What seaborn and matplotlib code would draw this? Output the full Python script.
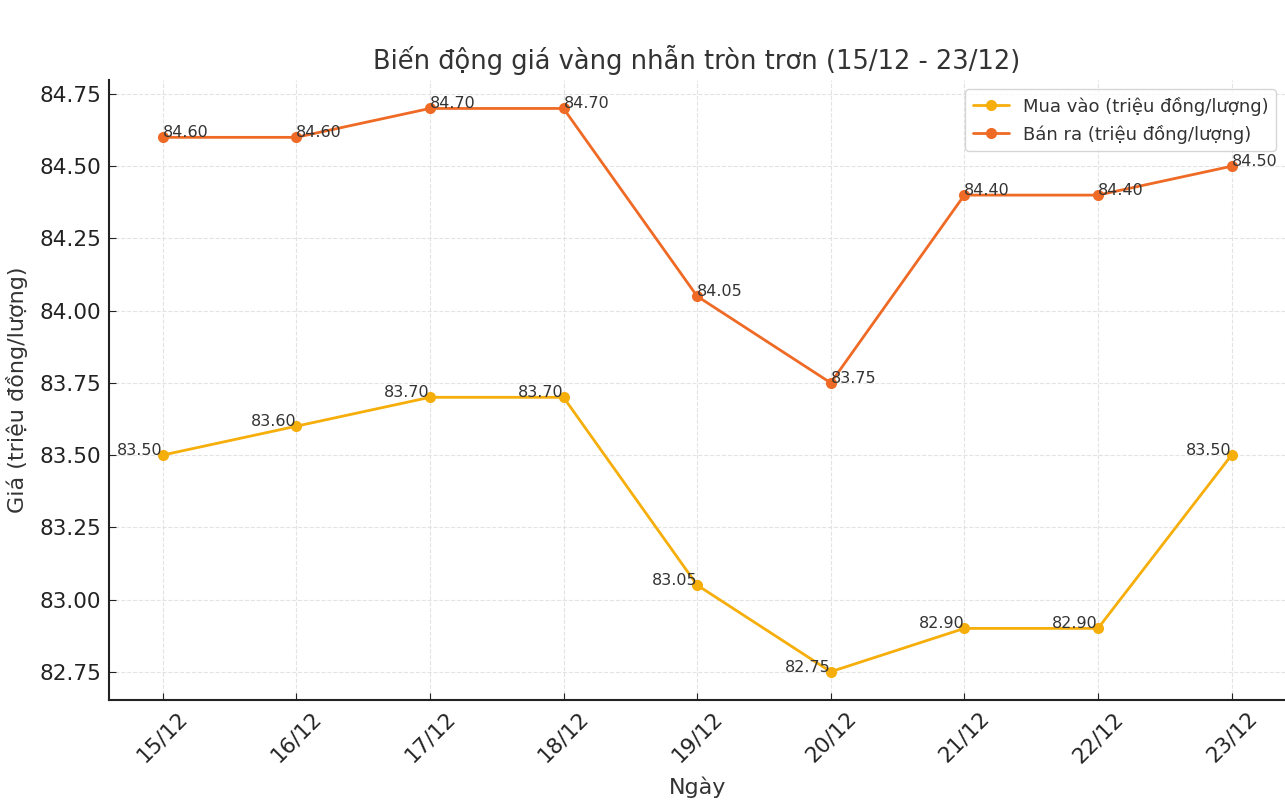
import matplotlib
matplotlib.use("Agg")
import matplotlib.pyplot as plt
import seaborn as sns
import pandas as pd

days = ["15/12", "16/12", "17/12", "18/12", "19/12", "20/12", "21/12", "22/12", "23/12"]
buy = [83.50, 83.60, 83.70, 83.70, 83.05, 82.75, 82.90, 82.90, 83.50]
sell = [84.60, 84.60, 84.70, 84.70, 84.05, 83.75, 84.40, 84.40, 84.50]
buy_label = "Mua vào (triệu đồng/lượng)"
sell_label = "Bán ra (triệu đồng/lượng)"

sns.set_style("ticks")
plt.rcParams['font.family'] = ['DejaVu Sans']

df = pd.DataFrame({
    "day": days * 2,
    "x": list(range(len(days))) * 2,
    "price": buy + sell,
    "series": [buy_label] * len(days) + [sell_label] * len(days),
})

fig, ax = plt.subplots(figsize=(12.85, 8.11), dpi=100)
fig.subplots_adjust(left=0.085, right=1.0, top=0.901, bottom=0.137)

palette = {buy_label: "#F6AE0B", sell_label: "#EE6A25"}
sns.lineplot(data=df, x="x", y="price", hue="series", palette=palette,
             marker="o", markersize=8, markeredgewidth=0, linewidth=2, ax=ax)

text_color = "#333333"
for i, v in enumerate(buy):
    ax.text(i, v, f"{v:.2f}", ha="right", va="baseline", fontsize=11.5, color=text_color)
for i, v in enumerate(sell):
    ax.text(i, v, f"{v:.2f}", ha="left", va="baseline", fontsize=11.5, color=text_color)

ax.set_xticks(range(len(days)))
ax.set_xticklabels(days, rotation=45)
ax.tick_params(axis="both", direction="in", labelsize=15.5, colors="#222222", length=5, pad=6)
ax.yaxis.set_major_formatter(matplotlib.ticker.FormatStrFormatter("%.2f"))
ax.grid(True, linestyle="--", color="#dddddd", linewidth=0.8, alpha=0.8)
ax.set_title("Biến động giá vàng nhẫn tròn trơn (15/12 - 23/12)", fontsize=18.5, color=text_color, pad=8)
ax.set_xlabel("Ngày", fontsize=16, color=text_color, labelpad=7)
ax.set_ylabel("Giá (triệu đồng/lượng)", fontsize=16, color=text_color, labelpad=8)
for s in ["top", "right"]:
    ax.spines[s].set_visible(False)
for s in ["left", "bottom"]:
    ax.spines[s].set_linewidth(1.5)
    ax.spines[s].set_color("#222222")

leg = ax.legend(loc="upper right", fontsize=13, frameon=True)
for t in leg.get_texts():
    t.set_color(text_color)

fig.savefig("out.png", dpi=100)
